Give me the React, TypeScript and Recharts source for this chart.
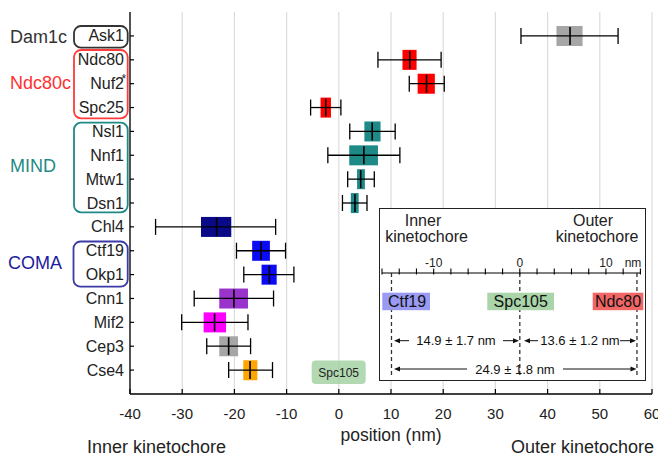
import React from 'react';
import { ComposedChart, Bar, Scatter, ErrorBar, XAxis, YAxis, CartesianGrid, Cell, ReferenceLine } from 'recharts';

const proteins = ['Ask1', 'Ndc80', 'Nuf2', 'Spc25', 'Nsl1', 'Nnf1', 'Mtw1', 'Dsn1', 'Chl4', 'Ctf19', 'Okp1', 'Cnn1', 'Mif2', 'Cep3', 'Cse4'];
const means = [44.3, 13.6, 16.8, -2.5, 6.4, 4.8, 4.2, 3.1, -23.4, -14.9, -13.3, -20.1, -23.8, -21.1, -17.0];
const boxLow = [41.7, 12.2, 15.1, -3.5, 4.9, 2.0, 3.5, 2.3, -26.4, -16.6, -14.8, -22.9, -25.9, -22.9, -18.3];
const boxHigh = [46.7, 14.9, 18.4, -1.5, 8.0, 7.5, 5.0, 3.8, -20.6, -13.2, -11.9, -17.4, -21.6, -19.3, -15.6];
const errLow = [34.9, 7.5, 13.5, -5.4, 2.1, -2.1, 1.7, 0.7, -35.1, -19.6, -18.2, -27.7, -30.1, -25.3, -21.1];
const errHigh = [53.5, 19.6, 20.2, 0.4, 10.8, 11.7, 6.8, 5.4, -12.1, -10.2, -8.6, -12.5, -17.4, -16.9, -12.7];
const boxColors = ['#a6a6a6', '#ff0000', '#ff0000', '#ff0000', '#1e8a88', '#1e8a88', '#1e8a88', '#1e8a88', '#0a0a88', '#0a0af5', '#0a0af5', '#9933cc', '#ff00ff', '#a6a6a6', '#ffa500'];
const xTicks = [-40, -30, -20, -10, 0, 10, 20, 30, 40, 50, 60];

const rulerTicks = [-16, -14, -12, -10, -8, -6, -4, -2, 0, 2, 4, 6, 8, 10, 12, 14];
const rulerLabels = [-10, 0, 10];
const insetMarkers = [-14.9, 0, 13.6];

const rows = proteins.map((name, i) => ({
  name,
  mean: means[i],
  box: [boxLow[i], boxHigh[i]],
  err: [means[i] - errLow[i], errHigh[i] - means[i]],
  color: boxColors[i],
}));

const insetRows = insetMarkers.map((v) => ({ x: v, y: 0.5 }));

const FONT = '"Liberation Sans", Arial, sans-serif';

const YTick = (props: any) => {
  const { x, y, payload } = props;
  return (
    <g>
      <line x1={x} x2={x + 4} y1={y} y2={y} stroke="#000" strokeWidth={1.2} />
      <text x={x - 6} y={y} textAnchor="end" dominantBaseline="central" fontSize={16} fill="#222" fontFamily={FONT}>
        {payload.value}
      </text>
    </g>
  );
};

const XTick = (props: any) => {
  const { x, y, payload } = props;
  return (
    <g>
      <line x1={x} x2={x} y1={y} y2={y - 5} stroke="#000" strokeWidth={1.2} />
      <text x={x} y={y + 19} textAnchor="middle" dominantBaseline="central" fontSize={15} fill="#222" fontFamily={FONT}>
        {payload.value}
      </text>
    </g>
  );
};

const RulerTick = (props: any) => {
  const { x, y, payload } = props;
  const v = payload.value;
  return (
    <g>
      <line x1={x} x2={x} y1={y + 1.5} y2={y - 4.5} stroke="#000" strokeWidth={1.1} />
      {rulerLabels.includes(v) ? (
        <text x={x} y={y - 10} textAnchor="middle" dominantBaseline="central" fontSize={12} fill="#222" fontFamily={FONT}>
          {v}
        </text>
      ) : null}
    </g>
  );
};

const MeanTick = (props: any) => {
  const { cx, cy } = props;
  if (cx == null || cy == null) return null;
  return <line x1={cx} x2={cx} y1={cy - 9} y2={cy + 9} stroke="#000" strokeWidth={1.6} />;
};

const Empty = () => <g />;

const Arrow = ({ x1, x2, y }: { x1: number; x2: number; y: number }) => {
  const dir = x2 > x1 ? 1 : -1;
  return (
    <g>
      <line x1={x1} x2={x2 - dir * 4} y1={y} y2={y} stroke="#111" strokeWidth={1} />
      <path d={`M${x2},${y} L${x2 - dir * 6},${y - 2.5} L${x2 - dir * 6},${y + 2.5} Z`} fill="#111" />
    </g>
  );
};

export default function App() {
  return (
    <div style={{ position: 'absolute', left: 0, top: 0, width: 658, height: 457, background: '#fff', fontFamily: FONT }}>
      <ComposedChart
        width={658}
        height={457}
        layout="vertical"
        data={rows}
        margin={{ top: 12, right: 6, bottom: 33, left: 0 }}
      >
        <CartesianGrid horizontal={false} stroke="#dcdcdc" strokeWidth={1.2} />
        <XAxis
          type="number"
          domain={[-40, 60]}
          ticks={xTicks}
          interval={0}
          height={30}
          tickSize={0}
          tickMargin={0}
          tickLine={false}
          axisLine={{ stroke: '#000', strokeWidth: 1.3 }}
          tick={<XTick />}
          allowDataOverflow
        />
        <YAxis
          type="category"
          dataKey="name"
          width={130}
          padding={{ top: 12, bottom: 12 }}
          tickSize={0}
          tickMargin={0}
          tickLine={false}
          interval={0}
          axisLine={{ stroke: '#000', strokeWidth: 1.3 }}
          tick={<YTick />}
        />
        <Bar dataKey="box" barSize={20} isAnimationActive={false}>
          {rows.map((r, i) => (
            <Cell key={i} fill={r.color} />
          ))}
        </Bar>
        <Scatter dataKey="mean" shape={<MeanTick />} isAnimationActive={false}>
          <ErrorBar dataKey="err" direction="x" width={8} stroke="#000" strokeWidth={1.3} />
        </Scatter>
      </ComposedChart>

      <div
        style={{
          position: 'absolute',
          left: 379,
          top: 208,
          width: 267,
          height: 173,
          border: '1.5px solid #222',
          background: '#fff',
          boxSizing: 'border-box',
        }}
      >
        <div style={{ position: 'absolute', left: -1.5, top: -1.5 }}>
          <ComposedChart width={267} height={173} data={insetRows} margin={{ top: 35, right: 5.6, bottom: 4.6, left: 3 }}>
            <XAxis
              type="number"
              dataKey="x"
              orientation="top"
              domain={[-16, 14]}
              ticks={rulerTicks}
              interval={0}
              height={30}
              tickSize={0}
              tickMargin={0}
              tickLine={false}
              axisLine={{ stroke: '#000', strokeWidth: 1.1 }}
              tick={<RulerTick />}
              allowDataOverflow
            />
            <YAxis type="number" dataKey="y" hide domain={[0, 1]} />
            <Scatter dataKey="y" shape={<Empty />} isAnimationActive={false} />
            {insetMarkers.map((v) => (
              <ReferenceLine key={v} x={v} stroke="#333" strokeWidth={1.3} strokeDasharray="4 3" />
            ))}
          </ComposedChart>
        </div>
      </div>

      <svg width={658} height={457} style={{ position: 'absolute', left: 0, top: 0, pointerEvents: 'none' }} fontFamily={FONT}>
        {/* group boxes */}
        <rect x={74} y={26} width={53.7} height={21.7} rx={7} fill="none" stroke="#333" strokeWidth={1.8} />
        <rect x={74} y={50} width={53.7} height={68.3} rx={7} fill="none" stroke="#ff3b3b" strokeWidth={1.8} />
        <rect x={74} y={122.7} width={53.7} height={89.6} rx={7} fill="none" stroke="#1f8a85" strokeWidth={1.8} />
        <rect x={73.5} y={241.5} width={54.2} height={45.2} rx={7} fill="none" stroke="#3a3aa8" strokeWidth={1.8} />
        <text x={10} y={36.5} dominantBaseline="central" fontSize={18} fill="#333">Dam1c</text>
        <text x={10} y={83} dominantBaseline="central" fontSize={18} fill="#ff3030">Ndc80c</text>
        <text x={10} y={166} dominantBaseline="central" fontSize={18} fill="#1f8a85">MIND</text>
        <text x={8} y={262.7} dominantBaseline="central" fontSize={18} fill="#1c1c9c">COMA</text>
        <text x={121.5} y={83} fontSize={12} fill="#222">*</text>

        {/* main chart annotation */}
        <rect x={311.7} y={360.5} width={54} height={23.5} rx={4} fill="#9fd09f" opacity={0.8} />
        <text x={338.7} y={372.5} textAnchor="middle" dominantBaseline="central" fontSize={12} fill="#222">Spc105</text>

        <text x={391} y={435} textAnchor="middle" dominantBaseline="central" fontSize={17.5} fill="#222">position (nm)</text>
        <text x={87} y={447} dominantBaseline="central" fontSize={18} fill="#222">Inner kinetochore</text>
        <text x={511} y={447} dominantBaseline="central" fontSize={18} fill="#222">Outer kinetochore</text>

        {/* inset texts */}
        <text x={423} y={220} textAnchor="middle" dominantBaseline="central" fontSize={16} fill="#222">Inner</text>
        <text x={426.5} y={236} textAnchor="middle" dominantBaseline="central" fontSize={16} fill="#222">kinetochore</text>
        <text x={593} y={220} textAnchor="middle" dominantBaseline="central" fontSize={16} fill="#222">Outer</text>
        <text x={597} y={236} textAnchor="middle" dominantBaseline="central" fontSize={16} fill="#222">kinetochore</text>
        <text x={633} y={263.3} textAnchor="middle" dominantBaseline="central" fontSize={12} fill="#222">nm</text>

        <rect x={382.3} y={292.7} width={47.7} height={17.5} fill="#9a9af2" />
        <text x={407} y={301.5} textAnchor="middle" dominantBaseline="central" fontSize={16} fill="#111">Ctf19</text>
        <rect x={487.3} y={292.7} width={66.7} height={17.5} fill="#a9d5a9" />
        <text x={520.7} y={301.5} textAnchor="middle" dominantBaseline="central" fontSize={16} fill="#111">Spc105</text>
        <rect x={592.7} y={292.7} width={50.6} height={17.5} fill="#f26666" />
        <text x={618} y={301.5} textAnchor="middle" dominantBaseline="central" fontSize={16} fill="#111">Ndc80</text>

        <Arrow x1={409} x2={394} y={340.7} />
        <text x={456} y={340.7} textAnchor="middle" dominantBaseline="central" fontSize={13} fill="#111">14.9 ± 1.7 nm</text>
        <Arrow x1={503} x2={519} y={340.7} />
        <Arrow x1={538} x2={524} y={340.7} />
        <text x={580} y={340.7} textAnchor="middle" dominantBaseline="central" fontSize={13} fill="#111">13.6 ± 1.2 nm</text>
        <Arrow x1={620} x2={636} y={340.7} />

        <Arrow x1={467} x2={394} y={369} />
        <text x={515} y={369} textAnchor="middle" dominantBaseline="central" fontSize={13} fill="#111">24.9 ± 1.8 nm</text>
        <Arrow x1={563} x2={636.5} y={369} />
      </svg>
    </div>
  );
}
